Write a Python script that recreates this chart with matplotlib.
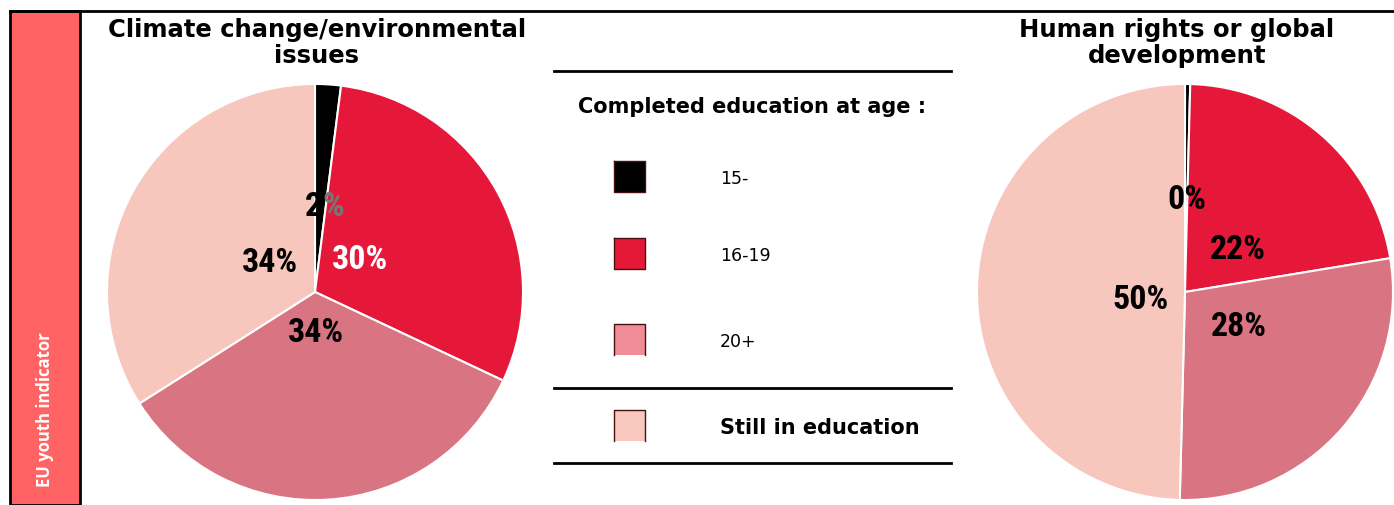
import matplotlib.pyplot as plt
from matplotlib.patches import Rectangle
from matplotlib.lines import Line2D

W, H = 1394, 506

# shares by age of completing education
groups = ['15-', '16-19', '20+', 'Still in education']
climate = [2, 30, 34, 34]
human_rights = [0.4, 22, 28, 49.6]
titles = ['Climate change/environmental\nissues', 'Human rights or global\ndevelopment']

pie_colors = ['#000000', '#E6183A', '#D97482', '#F7C6BC']
legend_colors = ['#000000', '#E31937', '#EF8C98', '#F8C7BD']
label_colors = [['black', 'white', 'black', 'black'],
                ['black', 'black', 'black', 'black']]

# label offsets inside each pie (fraction of radius)
label_pos = [[(0.034, 0.415), (0.217, 0.160), (0.005, -0.190), (-0.217, 0.145)],
             [(0.01, 0.445), (0.255, 0.205), (0.26, -0.165), (-0.215, -0.035)]]

pct_font = dict(family=['Roboto Condensed', 'Liberation Sans Narrow', 'DejaVu Sans Condensed',
                        'Liberation Sans'],
                stretch='condensed', weight='bold', size=24.5)


def fx(x):
    return x / W


def fy(y):
    return 1 - y / H


fig = plt.figure(figsize=(W / 100, H / 100), dpi=100)

# red side band and top rule
fig.patches.append(Rectangle((fx(10), 0), fx(80) - fx(10), fy(12), transform=fig.transFigure,
                             facecolor='#FF6363', edgecolor='black', linewidth=2))
fig.add_artist(Line2D([fx(10), 1], [fy(12), fy(12)], color='black', linewidth=2))
fig.text(fx(45), fy(487), 'EU youth indicator', rotation=90, ha='center', va='bottom',
         color='white', fontsize=12, fontweight='bold', family=['Open Sans', 'DejaVu Sans'])


def draw_pie(values, cx, cy, r, title, tx, k):
    ax = fig.add_axes([fx(cx - r), fy(cy + r), 2 * r / W, 2 * r / H])
    ax.pie(values, colors=pie_colors, startangle=90, counterclock=False, radius=1,
           wedgeprops=dict(edgecolor='white', linewidth=1.5))
    ax.set_xlim(-1, 1)
    ax.set_ylim(-1, 1)
    ax.set_aspect('equal')
    ax.axis('off')
    for i, v in enumerate(values):
        x, y = label_pos[k][i]
        txt = '%.0f%%' % v
        if k == 0 and i == 0:
            # the sign runs over the red wedge and shows grey there
            ax.text(x, y, txt[:-1], ha='right', va='center', color='black', **pct_font)
            ax.text(x, y, txt[-1], ha='left', va='center', color='#777777', **pct_font)
        else:
            ax.text(x, y, txt, ha='center', va='center', color=label_colors[k][i], **pct_font)
    fig.text(fx(tx), fy(43), title, ha='center', va='center', fontsize=17.5,
             fontweight='bold', linespacing=1.15)


draw_pie(climate, 315, 293, 208, titles[0], 317, 0)
draw_pie(human_rights, 1185, 293, 208, titles[1], 1177, 1)

# legend block
for y in [72, 389, 464]:
    fig.add_artist(Line2D([fx(554), fx(951)], [fy(y), fy(y)], color='black', linewidth=2))
fig.text(fx(752), fy(107), 'Completed education at age :', ha='center', va='center',
         fontsize=15, fontweight='bold')

sw_top = [162, 239, 325, 411]
text_y = [179, 256, 342, 428]
for i, g in enumerate(groups):
    x0, x1, y0, y1 = 614, 645, sw_top[i], sw_top[i] + 31
    fig.patches.append(Rectangle((fx(x0), fy(y1)), fx(x1) - fx(x0), fy(y0) - fy(y1),
                                 transform=fig.transFigure, facecolor=legend_colors[i],
                                 edgecolor='none'))
    if i < 2:
        xs, ys = [x0, x1, x1, x0, x0], [y0, y0, y1, y1, y0]
    else:
        xs, ys = [x0, x0, x1, x1], [y1, y0, y0, y1]
    fig.add_artist(Line2D([fx(v) for v in xs], [fy(v) for v in ys], color='#4a1010', linewidth=1))
    if i == 3:
        fig.text(fx(720), fy(text_y[i]), g, ha='left', va='center', fontsize=15, fontweight='bold')
    else:
        fig.text(fx(720), fy(text_y[i]), g, ha='left', va='center', fontsize=12.5)

fig.savefig('out.png', dpi=100)
